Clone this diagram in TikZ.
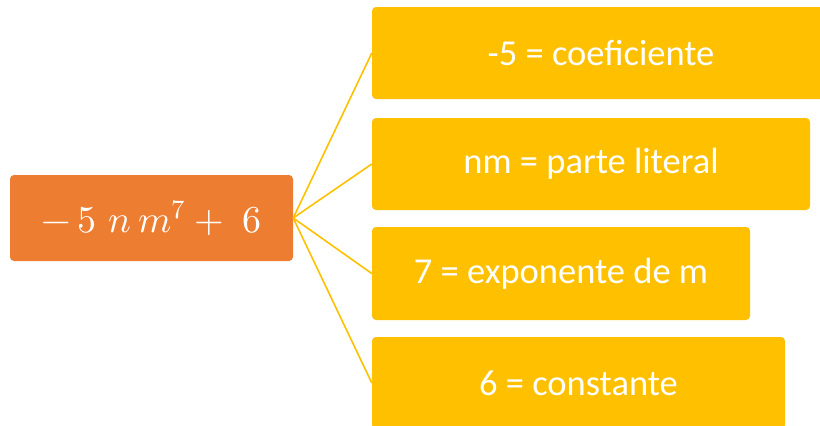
\documentclass[tikz,border=0pt]{standalone}
\usepackage{fontspec}
\setmainfont{Carlito}
\usepackage{unicode-math}
\setmathfont{Latin Modern Math}
\definecolor{orangebox}{HTML}{ED7D31}
\definecolor{goldbox}{HTML}{FFC000}
\tikzset{
  rootbox/.style={rectangle, rounded corners=4pt, fill=orangebox, text=white, inner sep=0pt, font=\fontsize{38}{40}\selectfont},
  leafbox/.style={rectangle, rounded corners=4pt, fill=goldbox, text=white, inner sep=0pt, font=\fontsize{36.5}{40}\selectfont},
  link/.style={draw=goldbox, line width=1.6pt}
}
\begin{document}
\begin{tikzpicture}[x=1pt,y=-1pt]
\useasboundingbox (0,0) rectangle (820,426);
\clip (0,0) rectangle (820,426);
\node[rootbox, minimum width=283pt, minimum height=86pt] (root) at (151.5,218) {$-\,5\,\,n\,m^{7} + \;6$};
\node[leafbox, minimum width=458pt, minimum height=92pt] (b1) at (601,53) {-5 = coeficiente};
\node[leafbox, minimum width=438pt, minimum height=92pt] (b2) at (591,164) {nm = parte literal};
\node[leafbox, minimum width=378pt, minimum height=93pt] (b3) at (561,273.5) {7 = exponente de m};
\node[leafbox, minimum width=413pt, minimum height=92pt] (b4) at (578.5,383) {6 = constante};
\coordinate (hub) at (root.east);
\draw[link] (hub) -- (b1.west);
\draw[link] (hub) -- (b2.west);
\draw[link] (hub) -- (b3.west);
\draw[link] (hub) -- (b4.west);
\end{tikzpicture}
\end{document}
